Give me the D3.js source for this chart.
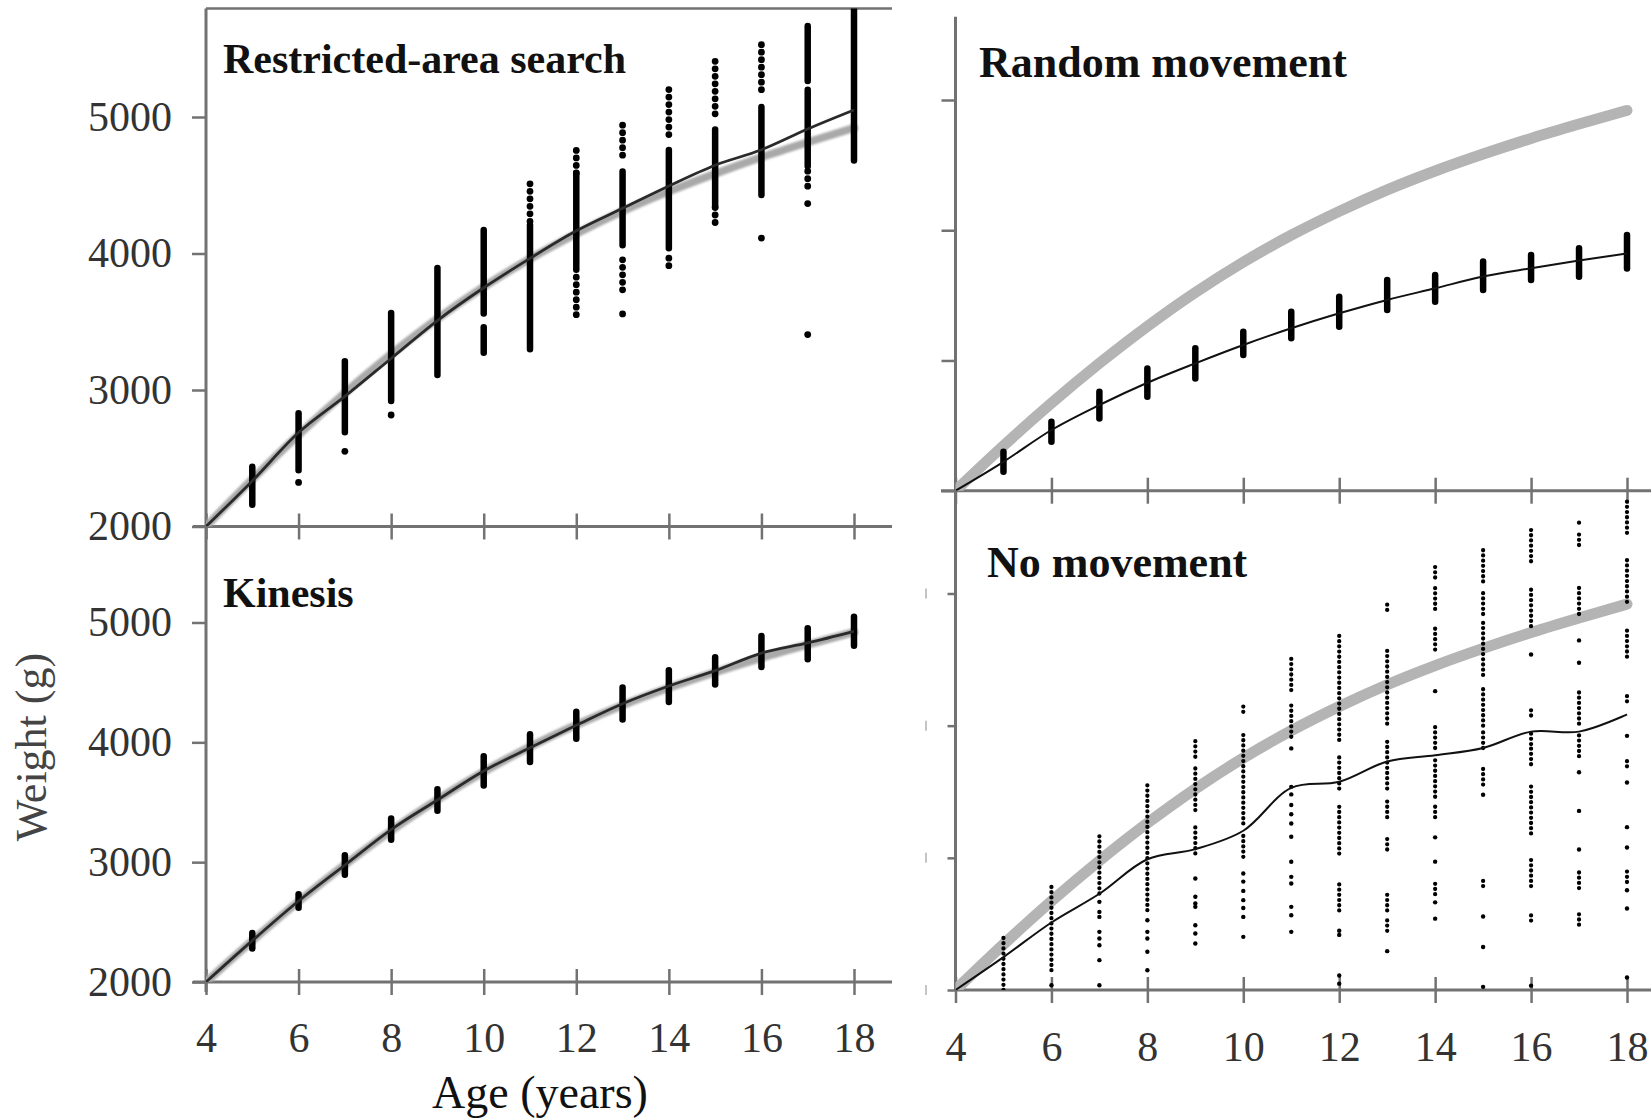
<!DOCTYPE html>
<html>
<head>
<meta charset="utf-8">
<script src="https://cdn.jsdelivr.net/npm/d3@7"></script>
<style>
  body { margin: 0; background: #fff; }
  svg { display: block; }
</style>
</head>
<body>
<div id="chart"></div>
<script>
var width = 1651,
    height = 1118;

// ages and ticks
var ages = [4, 5, 6, 7, 8, 9, 10, 11, 12, 13, 14, 15, 16, 17, 18];
var ageTicks = [4, 6, 8, 10, 12, 14, 16, 18];
var weightTicks = [2000, 3000, 4000, 5000];

// grey reference growth curve (same in every panel)
var reference = [2000, 2345, 2672, 2978, 3262, 3522, 3755, 3962, 4145, 4310, 4455, 4585, 4705, 4815, 4920];

// mean weight of simulated fish, one per panel
var rasMean     = [2000, 2334, 2688, 2953, 3231, 3509, 3749, 3964, 4166, 4331, 4495, 4647, 4760, 4912, 5051];
var kinesisMean = [2000, 2345, 2676, 2976, 3272, 3519, 3761, 3955, 4142, 4322, 4470, 4598, 4745, 4830, 4927];
var randomMean  = [2000, 2222, 2466, 2658, 2829, 2978, 3119, 3247, 3362, 3465, 3554, 3644, 3708, 3767, 3822];
var noMoveMean  = [2000, 2249, 2511, 2728, 2989, 3066, 3205, 3529, 3575, 3729, 3776, 3831, 3955, 3955, 4085];

// individual fish: runs of overlapping points [age, low, high] and single points [age, weight]
var rasRuns = [
  [5, 2159, 2437], [6, 2412, 2830], [7, 2691, 3210], [8, 2919, 3565], [9, 3109, 3894],
  [10, 3273, 3460], [10, 3560, 4173], [11, 3299, 4210], [12, 3881, 4590],
  [13, 4060, 4600], [14, 4038, 4758], [15, 4340, 4909], [16, 4429, 5074],
  [17, 5263, 5667], [17, 4640, 5200], [18, 4682, 5800]
];
var rasSparse = [
  [11, 4236, 4540], [12, 4590, 4768], [12, 3552, 3881], [13, 4720, 4973], [13, 3734, 3962],
  [14, 4871, 5250], [14, 3911, 3987], [15, 5023, 5415], [15, 4227, 4340], [16, 5200, 5579],
  [17, 4493, 4640]
];
var rasDots = [[6, 2323], [7, 2551], [8, 2817], [13, 3557], [16, 4113], [17, 4366], [17, 3406]];

var kinesisRuns = [
  [5, 2280, 2409], [6, 2620, 2733], [7, 2895, 3057], [8, 3187, 3365], [9, 3430, 3608],
  [10, 3640, 3883], [11, 3835, 4068], [12, 4029, 4256], [13, 4191, 4457], [14, 4337, 4602],
  [15, 4482, 4709], [16, 4628, 4887], [17, 4693, 4952], [18, 4806, 5049]
];

var randomRuns = [
  [5, 2145, 2299], [6, 2376, 2529], [7, 2555, 2760], [8, 2721, 2939], [9, 2862, 3093],
  [10, 3042, 3221], [11, 3170, 3374], [12, 3259, 3490], [13, 3387, 3618], [14, 3451, 3656],
  [15, 3541, 3759], [16, 3618, 3810], [17, 3643, 3861], [18, 3707, 3963]
];

var noMoveRuns = [
  [5, 2000, 2430], [6, 2150, 2818], [7, 2730, 3197], [8, 2604, 3575],
  [9, 3765, 3903], [9, 3361, 3689], [9, 3033, 3260],
  [10, 4105, 4168], [10, 3260, 3929], [10, 3008, 3184],
  [11, 4269, 4521], [11, 3916, 4168],
  [12, 3892, 4707], [12, 3524, 3769], [12, 3032, 3401], [12, 2602, 2817],
  [13, 4876, 4937], [13, 4015, 4584], [13, 3524, 3892], [13, 3308, 3431], [13, 3063, 3155], [13, 2602, 2725], [13, 2448, 2540],
  [14, 5121, 5229], [14, 4883, 5068], [14, 4576, 4760], [14, 3831, 4000], [14, 3462, 3769], [14, 3308, 3401], [14, 2725, 2817],
  [15, 5091, 5337], [15, 4845, 5014], [15, 4384, 4814], [15, 4000, 4292], [15, 3831, 3954], [15, 3554, 3708], [15, 2786, 2832],
  [16, 5244, 5490], [16, 4753, 5029], [16, 4077, 4138], [16, 3861, 3954], [16, 3708, 3831], [16, 3185, 3554], [16, 2786, 3001], [16, 2525, 2586],
  [17, 5536, 5552], [17, 5367, 5475], [17, 4845, 5075], [17, 4015, 4261], [17, 3769, 3954], [17, 2771, 2893], [17, 2494, 2602],
  [18, 5459, 5721], [18, 4937, 5260], [18, 4522, 4722], [18, 4184, 4261], [18, 3692, 3738], [18, 2817, 2909]
];
var noMoveDots = [
  [6, 2036], [7, 2667], [7, 2591], [7, 2553], [7, 2440], [7, 2390], [7, 2339], [7, 2226], [7, 2036],
  [8, 2528], [8, 2440], [8, 2390], [8, 2289], [8, 2150],
  [9, 2844], [9, 2705], [9, 2655], [9, 2629], [9, 2490], [9, 2427], [9, 2352],
  [10, 2882], [10, 2820], [10, 2750], [10, 2680], [10, 2620], [10, 2553], [10, 2402],
  [11, 3828], [11, 3537], [11, 3480], [11, 3400], [11, 3330], [11, 3260], [11, 3159], [11, 2970],
  [11, 2856], [11, 2806], [11, 2629], [11, 2566], [11, 2440],
  [12, 2448], [12, 2417], [12, 2110], [12, 2048],
  [13, 2294],
  [14, 4261], [14, 3155], [14, 2971], [14, 2663], [14, 2540],
  [15, 3477], [15, 2556], [15, 2325], [15, 2024],
  [16, 4538], [16, 2033],
  [17, 4645], [17, 4476], [17, 3647], [17, 3355], [17, 3063],
  [18, 3923], [18, 3570], [18, 3232], [18, 3078], [18, 2755], [18, 2617], [18, 2095]
];

var panels = [
  {id: "ras", title: "Restricted-area search", tx: 223, ty: 73, fs: 42,
   xr: [206, 854], yr: [526.5, 117], top: 8.5, side: "left",
   mean: rasMean, runs: rasRuns, sparse: rasSparse, dots: rasDots},
  {id: "kin", title: "Kinesis", tx: 223, ty: 607, fs: 42,
   xr: [206, 854], yr: [982, 622.5], top: 526.5, side: "left",
   mean: kinesisMean, runs: kinesisRuns, sparse: [], dots: []},
  {id: "rnd", title: "Random movement", tx: 979, ty: 77, fs: 44,
   xr: [955.5, 1627], yr: [490.7, 100], top: 16.7, side: "right",
   mean: randomMean, runs: randomRuns, sparse: [], dots: []},
  {id: "nom", title: "No movement", tx: 987, ty: 577, fs: 44,
   xr: [955.5, 1627], yr: [990, 593.5], top: 490.7, side: "right",
   mean: noMoveMean, runs: [], sparse: noMoveRuns, dots: noMoveDots}
];

var svg = d3.select("#chart")
    .append("svg")
    .attr("width", width)
    .attr("height", height);

var defs = svg.append("defs");
defs.append("filter").attr("id", "soft")
    .append("feGaussianBlur").attr("stdDeviation", 1.1);
defs.append("filter").attr("id", "soft2")
    .append("feGaussianBlur").attr("stdDeviation", 0.5);

var axisColor = "#727272";
var serif = "'Liberation Serif', 'Times New Roman', serif";

panels.forEach(function(p) {
  var x = d3.scaleLinear().domain([4, 18]).range(p.xr);
  var y = d3.scaleLinear().domain([2000, 5000]).range(p.yr);
  var left = p.side == "left";
  var isNom = p.id == "nom";

  var g = svg.append("g").attr("class", "panel " + p.id);

  defs.append("clipPath").attr("id", "clip-" + p.id)
    .append("rect")
    .attr("x", p.xr[0]).attr("y", p.top)
    .attr("width", width - p.xr[0]).attr("height", p.yr[0] - p.top);

  // axis lines
  var xEnd = left ? 892 : width;
  var xStart = left ? 193 : (p.id == "rnd" ? 941 : p.xr[0]);
  g.append("line")
    .attr("x1", xStart).attr("x2", xEnd)
    .attr("y1", p.yr[0]).attr("y2", p.yr[0])
    .attr("stroke", axisColor).attr("stroke-width", 3);
  g.append("line")
    .attr("x1", p.xr[0]).attr("x2", p.xr[0])
    .attr("y1", p.top).attr("y2", p.yr[0] + (p.id == "kin" ? 10 : 0))
    .attr("stroke", axisColor).attr("stroke-width", 3);
  if (p.id == "ras") {
    g.append("line")
      .attr("x1", p.xr[0]).attr("x2", xEnd)
      .attr("y1", p.top).attr("y2", p.top)
      .attr("stroke", axisColor).attr("stroke-width", 2.5);
  }

  // y axis
  var yAxis = d3.axisLeft(y)
    .tickValues(weightTicks)
    .tickSize(isNom ? 8 : 14)
    .tickSizeOuter(0)
    .tickPadding(20)
    .tickFormat(left ? d3.format("d") : "");
  var ya = g.append("g")
    .attr("transform", "translate(" + p.xr[0] + ",0)")
    .call(yAxis);
  ya.select(".domain").remove();
  ya.selectAll(".tick line").attr("stroke", axisColor).attr("stroke-width", 2.5);
  ya.selectAll(".tick text")
    .style("font-family", serif)
    .style("font-size", "42px")
    .attr("fill", "#333");

  if (isNom) {
    // faint remnants of the y tick marks
    g.selectAll(".ghost")
      .data(weightTicks)
      .enter().append("line")
      .attr("x1", 926).attr("x2", 926)
      .attr("y1", function(d) { return y(d) - 5; })
      .attr("y2", function(d) { return y(d) + 5; })
      .attr("stroke", "#c4c4c4").attr("stroke-width", 2);
  }

  // x axis, ticks crossing the line
  var showX = p.id == "kin" || isNom;
  var xAxis = d3.axisBottom(x)
    .tickValues(ageTicks)
    .tickSize(13)
    .tickSizeOuter(0)
    .tickFormat(showX ? d3.format("d") : "");
  var xa = g.append("g")
    .attr("transform", "translate(0," + p.yr[0] + ")")
    .call(xAxis);
  xa.select(".domain").remove();
  xa.selectAll(".tick line")
    .attr("y1", -13)
    .attr("stroke", axisColor).attr("stroke-width", 2.5);
  xa.selectAll(".tick text")
    .attr("y", left ? 70 : 71)
    .attr("dy", 0)
    .style("font-family", serif)
    .style("font-size", "42px")
    .attr("fill", "#333");

  var plot = g.append("g").attr("clip-path", "url(#clip-" + p.id + ")");

  // grey reference curve
  var line = d3.line()
    .x(function(d, i) { return x(ages[i]); })
    .y(function(d) { return y(d); })
    .curve(d3.curveMonotoneX);

  plot.append("path")
    .datum(reference)
    .attr("d", line)
    .attr("fill", "none")
    .attr("stroke", left ? "#a9a9a9" : "#b4b4b4")
    .attr("stroke-width", left ? 8 : 11)
    .attr("stroke-linecap", "round")
    .attr("filter", left ? "url(#soft)" : "url(#soft2)");

  // dense runs of points
  plot.selectAll(".run")
    .data(p.runs)
    .enter().append("line")
    .attr("class", "run")
    .attr("x1", function(d) { return x(d[0]); })
    .attr("x2", function(d) { return x(d[0]); })
    .attr("y1", function(d) { return y(d[1]); })
    .attr("y2", function(d) { return y(d[2]); })
    .attr("stroke", "#000")
    .attr("stroke-width", 6.5)
    .attr("stroke-linecap", "round");

  // looser runs of points
  plot.selectAll(".sparse")
    .data(p.sparse)
    .enter().append("line")
    .attr("class", "sparse")
    .attr("x1", function(d) { return x(d[0]); })
    .attr("x2", function(d) { return x(d[0]); })
    .attr("y1", function(d) { return y(d[1]); })
    .attr("y2", function(d) { return y(d[2]); })
    .attr("stroke", "#000")
    .attr("stroke-width", isNom ? 4.3 : 6.8)
    .attr("stroke-dasharray", isNom ? "0 5.2" : "0 7.5")
    .attr("stroke-linecap", "round");

  plot.selectAll(".dot")
    .data(p.dots)
    .enter().append("circle")
    .attr("class", "dot")
    .attr("cx", function(d) { return x(d[0]); })
    .attr("cy", function(d) { return y(d[1]); })
    .attr("r", isNom ? 2.2 : 3.4)
    .attr("fill", "#000");

  // mean line
  plot.append("path")
    .datum(p.mean)
    .attr("d", line.curve(isNom ? d3.curveCatmullRom : d3.curveMonotoneX))
    .attr("fill", "none")
    .attr("stroke", left ? "#2b2b2b" : "#111")
    .attr("stroke-width", left ? 2.8 : 2)
    .attr("filter", left ? "url(#soft2)" : null);

  // panel title
  g.append("text")
    .attr("x", p.tx)
    .attr("y", p.ty)
    .style("font-family", serif)
    .style("font-weight", "bold")
    .style("font-size", p.fs + "px")
    .attr("fill", "#111")
    .text(p.title);
});

// axis titles
svg.append("text")
  .attr("transform", "translate(46,747) rotate(-90)")
  .attr("text-anchor", "middle")
  .style("font-family", serif)
  .style("font-size", "44px")
  .attr("fill", "#444")
  .text("Weight (g)");

svg.append("text")
  .attr("x", 540)
  .attr("y", 1108)
  .attr("text-anchor", "middle")
  .style("font-family", serif)
  .style("font-size", "46px")
  .attr("fill", "#111")
  .text("Age (years)");
</script>
</body>
</html>
